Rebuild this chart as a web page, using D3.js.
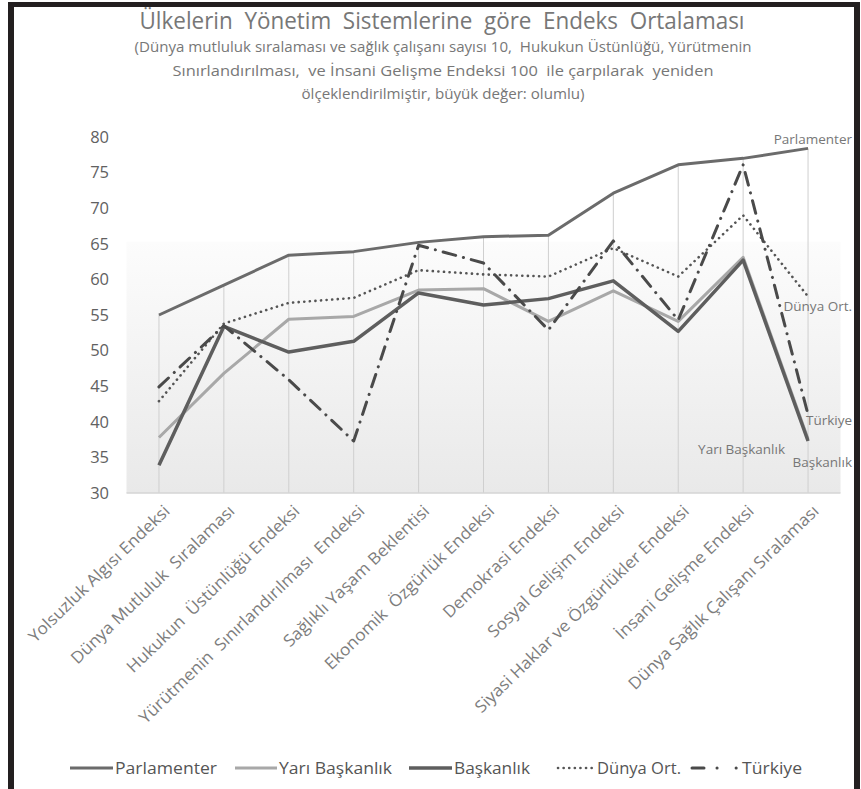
<!DOCTYPE html>
<html lang="tr">
<head>
<meta charset="UTF-8">
<title>Ülkelerin Yönetim Sistemlerine göre Endeks Ortalaması</title>
<script src="https://d3js.org/d3.v7.min.js"></script>
<style>
  body { margin: 0; background: #fff; }
  text { font-family: "Open Sans", Lato, sans-serif; white-space: pre; }
</style>
</head>
<body>
<script>
// categories along the x axis
var categories = [
  "Yolsuzluk Algısı Endeksi",
  "Dünya Mutluluk  Sıralaması",
  "Hukukun  Üstünlüğü Endeksi",
  "Yürütmenin  Sınırlandırılması  Endeksi",
  "Sağlıklı Yaşam Beklentisi",
  "Ekonomik  Özgürlük Endeksi",
  "Demokrasi Endeksi",
  "Sosyal Gelişim Endeksi",
  "Siyasi Haklar ve Özgürlükler Endeksi",
  "İnsani Gelişme Endeksi",
  "Dünya Sağlık Çalışanı Sıralaması"
];

// values
var parlamenter   = [55.0, 59.2, 63.4, 63.9, 65.2, 66.0, 66.2, 72.1, 76.1, 77.0, 78.4];
var yariBaskanlik = [37.8, 46.8, 54.4, 54.8, 58.5, 58.7, 54.1, 58.4, 54.1, 63.1, 37.6];
var baskanlik     = [33.9, 53.4, 49.8, 51.3, 58.1, 56.4, 57.3, 59.8, 52.7, 62.7, 37.3];
var dunyaOrt      = [42.9, 53.8, 56.7, 57.4, 61.3, 60.7, 60.4, 64.4, 60.4, 69.0, 57.6];
var turkiye       = [44.9, 53.5, 45.9, 37.3, 64.8, 62.3, 52.9, 65.4, 54.3, 76.1, 41.0];

var yTicks = [30, 35, 40, 45, 50, 55, 60, 65, 70, 75, 80];

var series = [
  { name: "Parlamenter",    values: parlamenter,   color: "#6b6b6b", width: 3,   dash: null },
  { name: "Yarı Başkanlık", values: yariBaskanlik, color: "#a8a8a8", width: 3,   dash: null },
  { name: "Başkanlık",      values: baskanlik,     color: "#5e5e5e", width: 3.5, dash: null },
  { name: "Dünya Ort.",     values: dunyaOrt,      color: "#555555", width: 2.6, dash: "0.1,5.5" },
  { name: "Türkiye",        values: turkiye,       color: "#4a4a4a", width: 3,   dash: "13,8,0.1,8" }
];

var W = 861, H = 789;
var svg = d3.select("body").append("svg")
  .attr("width", W).attr("height", H);

var x = d3.scaleBand().domain(categories).range([126.5, 840.5]).padding(0);
var cx = function (c) { return x(c) + x.bandwidth() / 2; };
var y = d3.scaleLinear().domain([30, 80]).range([493, 137]);

// plot area shading
var defs = svg.append("defs");
var grad = defs.append("linearGradient").attr("id", "shade")
  .attr("x1", 0).attr("y1", 0).attr("x2", 0).attr("y2", 1);
grad.append("stop").attr("offset", "0%").attr("stop-color", "#fcfcfc");
grad.append("stop").attr("offset", "100%").attr("stop-color", "#e9e9e9");

svg.append("rect")
  .attr("x", x.range()[0]).attr("y", y(65.3))
  .attr("width", x.range()[1] - x.range()[0])
  .attr("height", y(30) - y(65.3))
  .attr("fill", "url(#shade)");

// drop lines
svg.append("g").selectAll("line")
  .data(categories)
  .join("line")
  .attr("x1", cx).attr("x2", cx)
  .attr("y1", function (c, i) { return y(d3.max(series, function (s) { return s.values[i]; })); })
  .attr("y2", y(30))
  .attr("stroke", "#cfcfcf").attr("stroke-width", 1);

// axis line
svg.append("line")
  .attr("x1", x.range()[0]).attr("x2", x.range()[1])
  .attr("y1", y(30)).attr("y2", y(30))
  .attr("stroke", "#d4d4d4").attr("stroke-width", 1.5);

// y axis labels
var yAxis = svg.append("g")
  .attr("transform", "translate(109,0)")
  .call(d3.axisLeft(y).tickValues(yTicks).tickSize(0).tickPadding(0));
yAxis.select(".domain").remove();
yAxis.selectAll("text")
  .attr("font-family", "Lato, sans-serif")
  .attr("font-size", 16.5).attr("fill", "#616161");

// x axis labels
var xAxis = svg.append("g")
  .attr("transform", "translate(5," + (y(30) + 12) + ")")
  .call(d3.axisBottom(x).tickSize(0).tickPadding(0));
xAxis.select(".domain").remove();
xAxis.selectAll("text")
  .attr("font-family", "'Open Sans', sans-serif")
  .attr("font-size", 16.5).attr("fill", "#7d7d7d")
  .attr("text-anchor", "end")
  .attr("dy", "0.6em")
  .attr("transform", "rotate(-44)")
  .each(function () {
    d3.select(this)
      .attr("textLength", this.getComputedTextLength() * 1.05)
      .attr("lengthAdjust", "spacingAndGlyphs");
  });

// lines
var line = d3.line()
  .x(function (d, i) { return cx(categories[i]); })
  .y(function (d) { return y(d); });

svg.append("g").selectAll("path")
  .data(series)
  .join("path")
  .attr("d", function (s) { return line(s.values); })
  .attr("fill", "none")
  .attr("stroke", function (s) { return s.color; })
  .attr("stroke-width", function (s) { return s.width; })
  .attr("stroke-dasharray", function (s) { return s.dash; })
  .attr("stroke-linecap", function (s) { return s.dash ? "round" : "butt"; })
  .attr("stroke-linejoin", "round");

// series labels at the right end
var last = categories[categories.length - 1];
var endLabels = [
  { name: "Parlamenter",    xo: 44,  v: parlamenter[10],   dy: -4 },
  { name: "Dünya Ort.",     xo: 44,  v: dunyaOrt[10],      dy: 15 },
  { name: "Türkiye",        xo: 44,  v: turkiye[10],       dy: 10 },
  { name: "Yarı Başkanlık", xo: -23, v: yariBaskanlik[10], dy: 15 },
  { name: "Başkanlık",      xo: 44,  v: baskanlik[10],     dy: 26 }
];
svg.append("g").selectAll("text")
  .data(endLabels)
  .join("text")
  .attr("x", function (d) { return cx(last) + d.xo; })
  .attr("y", function (d) { return y(d.v) + d.dy; })
  .attr("text-anchor", "end")
  .attr("font-size", 13.5).attr("fill", "#777")
  .text(function (d) { return d.name; });

// title
svg.append("text")
  .attr("x", 442).attr("y", 29)
  .attr("text-anchor", "middle")
  .attr("font-family", "Lato, sans-serif")
  .attr("font-size", 23).attr("fill", "#777")
  .attr("textLength", 605).attr("lengthAdjust", "spacingAndGlyphs")
  .text("Ülkelerin  Yönetim  Sistemlerine  göre  Endeks  Ortalaması");

var sub = [
  "(Dünya mutluluk sıralaması ve sağlık çalışanı sayısı 10,  Hukukun Üstünlüğü, Yürütmenin",
  "Sınırlandırılması,  ve İnsani Gelişme Endeksi 100  ile çarpılarak  yeniden",
  "ölçeklendirilmiştir, büyük değer: olumlu)"
];
var subLen = [617, 541, 283];
svg.append("g").selectAll("text")
  .data(sub)
  .join("text")
  .attr("x", 443)
  .attr("y", function (d, i) { return 52 + i * 23.5; })
  .attr("text-anchor", "middle")
  .attr("font-family", "Lato, sans-serif")
  .attr("font-size", 15).attr("fill", "#777")
  .attr("textLength", function (d, i) { return subLen[i]; })
  .attr("lengthAdjust", "spacingAndGlyphs")
  .text(function (d) { return d; });

// legend
var legendX    = [70, 235, 409, 558, 692];
var legendLine = [43, 42, 43, 34, 48];
var legendText = [102, 113, 76, 84, 60];
var legend = svg.append("g").selectAll("g")
  .data(series)
  .join("g")
  .attr("transform", function (d, i) { return "translate(" + legendX[i] + ",768)"; });
legend.append("line")
  .attr("x1", 0).attr("x2", function (d, i) { return legendLine[i]; })
  .attr("y1", 0).attr("y2", 0)
  .attr("stroke", function (s) { return s.color; })
  .attr("stroke-width", function (s) { return s.width; })
  .attr("stroke-dasharray", function (s, i) { return i === 4 ? "12,13,0.1,19,0.1,40" : s.dash; })
  .attr("stroke-linecap", function (s) { return s.dash ? "round" : "butt"; });
legend.append("text")
  .attr("x", function (d, i) { return legendLine[i] + (i === 3 ? 5 : 2); })
  .attr("y", 6)
  .attr("font-family", "Lato, sans-serif")
  .attr("font-size", 16).attr("fill", "#555")
  .attr("textLength", function (d, i) { return legendText[i]; })
  .attr("lengthAdjust", "spacingAndGlyphs")
  .text(function (d) { return d.name; });

// black frame
var frame = svg.append("g").attr("fill", "#231f20");
frame.append("rect").attr("x", 8).attr("y", 2).attr("width", 852).attr("height", 5);
frame.append("rect").attr("x", 8).attr("y", 2).attr("width", 6).attr("height", H);
frame.append("rect").attr("x", 854).attr("y", 2).attr("width", 6).attr("height", H);
</script>
</body>
</html>
